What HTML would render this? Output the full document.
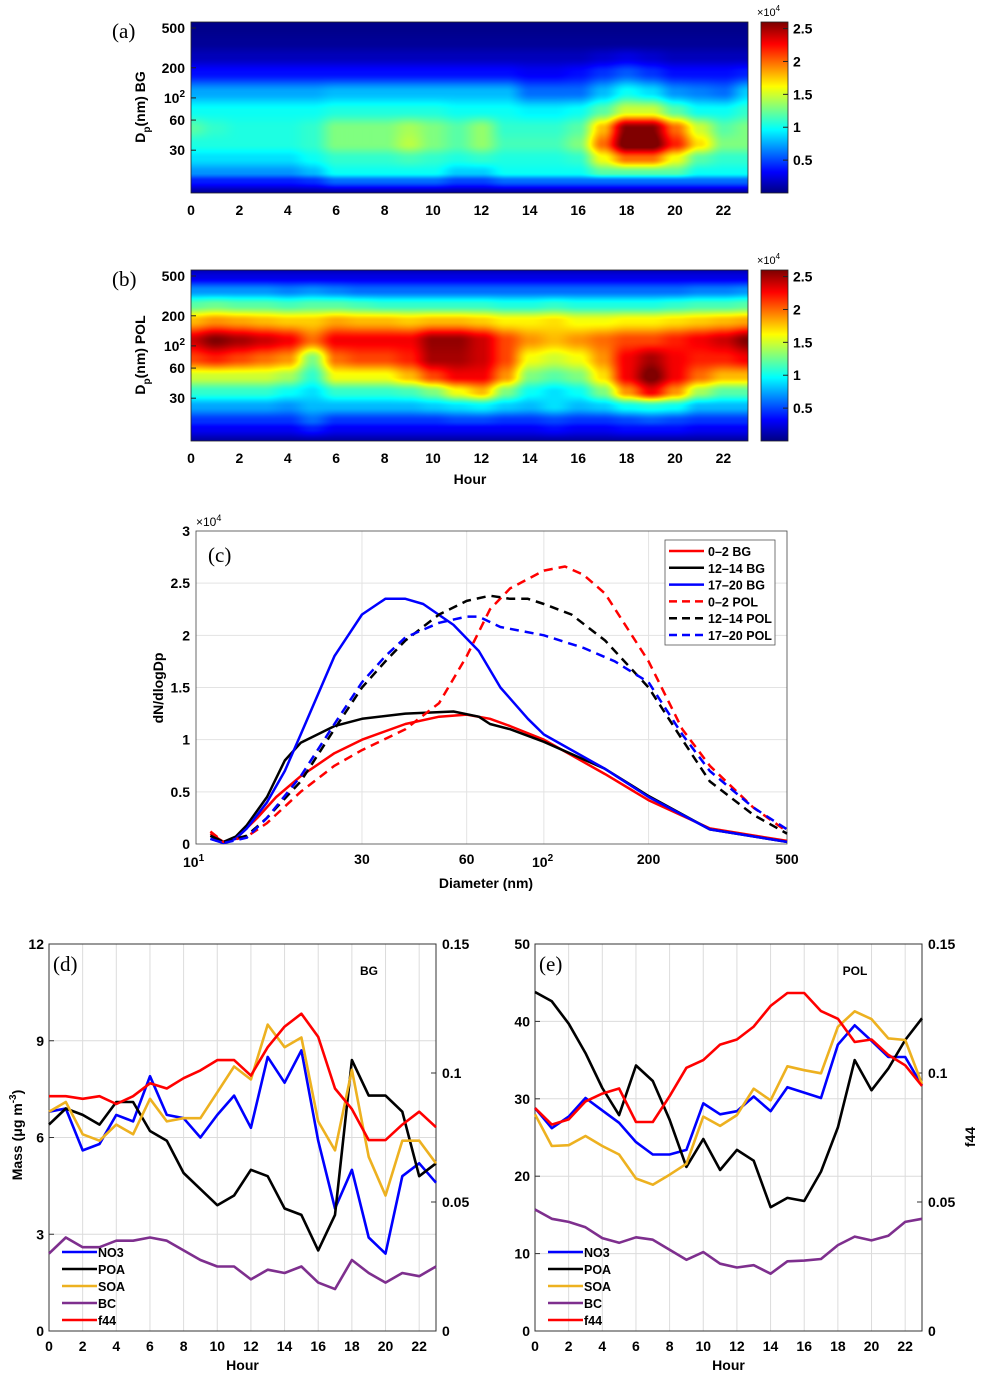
<!DOCTYPE html>
<html><head><meta charset="utf-8">
<style>
body{margin:0;background:#fff;width:981px;height:1376px;position:relative;overflow:hidden;font-family:"Liberation Sans",sans-serif}
svg{position:absolute;left:0;top:0}
canvas{position:absolute}
</style></head>
<body>
<canvas id="hmA" style="left:191px;top:22px" width="557" height="171"></canvas>
<canvas id="hmB" style="left:191px;top:270px" width="557" height="171"></canvas>
<canvas id="cbA" style="left:761px;top:22px" width="27" height="171"></canvas>
<canvas id="cbB" style="left:761px;top:270px" width="27" height="171"></canvas>
<svg id="main" width="981" height="1376"></svg>
<script>
// ---------- heatmap data (x10^4) ----------
const hmDiam = [11,15,18,25,35,50,75,115,180,260,360,500,600];
const hmBG = [
[0.05,0.05,0.05,0.05,0.05,0.05,0.05,0.05,0.05,0.05,0.05,0.05,0.05,0.05,0.05,0.05,0.05,0.05,0.05,0.05,0.05,0.05,0.05,0.05],
[0.4,0.4,0.4,0.4,0.4,0.45,0.6,0.6,0.6,0.6,0.6,0.5,0.5,0.6,0.6,0.6,0.6,0.6,0.6,0.6,0.6,0.6,0.6,0.6],
[0.7,0.7,0.7,0.7,0.7,0.8,1.0,1.0,1.0,1.0,1.0,0.85,0.85,1.0,1.0,1.0,1.0,1.2,1.2,1.2,1.2,1.0,1.0,1.0],
[0.9,0.9,0.9,0.9,0.9,1.0,1.1,1.1,1.1,1.15,1.1,1.05,1.1,1.05,1.05,1.05,1.1,1.6,2.0,2.0,1.6,1.2,1.1,1.1],
[1.05,1.05,1.05,1.05,1.05,1.1,1.3,1.3,1.3,1.45,1.3,1.2,1.35,1.15,1.15,1.15,1.3,2.0,2.7,2.7,2.2,1.7,1.3,1.3],
[1.2,1.1,1.05,1.05,1.05,1.1,1.3,1.3,1.3,1.4,1.3,1.2,1.35,1.1,1.1,1.1,1.2,1.8,2.6,2.6,2.0,1.5,1.2,1.3],
[1.0,1.0,1.0,1.0,1.0,1.0,1.05,1.05,1.05,1.05,1.05,1.0,1.0,1.0,0.95,0.95,1.0,1.2,1.5,1.5,1.2,1.0,1.0,1.1],
[0.75,0.75,0.75,0.75,0.75,0.75,0.8,0.8,0.8,0.8,0.8,0.8,0.8,0.8,0.6,0.6,0.6,0.8,1.0,0.9,0.7,0.65,0.6,0.85],
[0.35,0.35,0.35,0.35,0.35,0.35,0.35,0.35,0.35,0.35,0.35,0.35,0.35,0.35,0.3,0.3,0.35,0.45,0.55,0.45,0.35,0.35,0.35,0.4],
[0.15,0.15,0.15,0.15,0.15,0.15,0.15,0.15,0.15,0.15,0.15,0.15,0.15,0.15,0.15,0.15,0.15,0.2,0.25,0.2,0.15,0.15,0.15,0.15],
[0.06,0.06,0.06,0.06,0.06,0.06,0.06,0.06,0.06,0.06,0.06,0.06,0.06,0.06,0.06,0.06,0.06,0.06,0.06,0.06,0.06,0.06,0.06,0.06],
[0.03,0.03,0.03,0.03,0.03,0.03,0.03,0.03,0.03,0.03,0.03,0.03,0.03,0.03,0.03,0.03,0.03,0.03,0.03,0.03,0.03,0.03,0.03,0.03],
[0.02,0.02,0.02,0.02,0.02,0.02,0.02,0.02,0.02,0.02,0.02,0.02,0.02,0.02,0.02,0.02,0.02,0.02,0.02,0.02,0.02,0.02,0.02,0.02]];
const hmPOL = [
[0.08,0.08,0.08,0.08,0.08,0.08,0.08,0.08,0.08,0.08,0.08,0.08,0.08,0.08,0.08,0.08,0.08,0.08,0.08,0.08,0.08,0.08,0.08,0.08],
[0.3,0.3,0.3,0.3,0.3,0.4,0.3,0.3,0.3,0.3,0.3,0.3,0.3,0.3,0.3,0.35,0.3,0.3,0.35,0.35,0.35,0.3,0.3,0.3],
[0.45,0.45,0.45,0.45,0.45,0.6,0.45,0.45,0.45,0.45,0.45,0.5,0.5,0.45,0.45,0.5,0.45,0.45,0.5,0.55,0.5,0.45,0.45,0.45],
[0.75,0.75,0.75,0.75,0.7,0.8,0.8,0.8,0.8,0.8,0.85,0.9,0.95,0.85,0.8,0.9,0.8,0.85,1.0,1.05,1.0,0.8,0.8,0.8],
[1.1,1.1,1.1,1.1,1.0,0.9,1.1,1.1,1.1,1.15,1.3,1.6,1.8,1.3,1.0,0.9,1.0,1.3,1.9,2.3,1.9,1.4,1.2,1.2],
[1.5,1.5,1.5,1.5,1.4,1.1,1.6,1.6,1.6,1.8,2.1,2.3,2.3,1.9,1.3,1.2,1.3,1.7,2.3,2.65,2.3,2.0,1.8,1.8],
[2.1,2.2,2.1,2.0,1.9,1.3,2.0,2.1,2.1,2.2,2.5,2.5,2.4,2.1,1.6,1.5,1.6,1.9,2.3,2.5,2.3,2.2,2.2,2.3],
[2.4,2.6,2.5,2.4,2.3,2.0,2.3,2.3,2.3,2.3,2.55,2.55,2.4,2.1,1.9,1.8,1.9,2.0,2.1,2.1,2.2,2.3,2.4,2.6],
[1.8,1.9,1.85,1.8,1.75,1.75,1.85,1.8,1.8,1.75,1.8,1.8,1.75,1.65,1.65,1.7,1.6,1.6,1.65,1.65,1.7,1.75,1.8,1.85],
[1.2,1.25,1.2,1.2,1.15,1.2,1.2,1.15,1.1,1.1,1.1,1.1,1.1,1.05,1.05,1.1,1.05,1.05,1.05,1.05,1.1,1.15,1.15,1.2],
[0.7,0.7,0.7,0.7,0.65,0.7,0.65,0.6,0.6,0.6,0.6,0.6,0.6,0.6,0.6,0.6,0.6,0.6,0.6,0.6,0.6,0.65,0.65,0.7],
[0.25,0.25,0.25,0.25,0.25,0.25,0.25,0.25,0.25,0.25,0.25,0.25,0.25,0.25,0.25,0.25,0.25,0.25,0.25,0.25,0.25,0.25,0.25,0.25],
[0.12,0.12,0.12,0.12,0.12,0.12,0.12,0.12,0.12,0.12,0.12,0.12,0.12,0.12,0.12,0.12,0.12,0.12,0.12,0.12,0.12,0.12,0.12,0.12]];

// ---------- size distribution (panel c) ----------
const cLabels = ["0\u20132 BG","12\u201314 BG","17\u201320 BG","0\u20132 POL","12\u201314 POL","17\u201320 POL"];
const cColors = ["#ff0000","#000000","#0000ff","#ff0000","#000000","#0000ff"];
const cDash = [false,false,false,true,true,true];
const dRedBG = [11,12,13,15,17,20,25,30,40,50,60,70,80,100,150,200,300,500];
const vRedBG = [0.1,0.02,0.05,0.25,0.45,0.65,0.87,1.0,1.15,1.22,1.24,1.2,1.13,1.0,0.67,0.42,0.15,0.03];
const dBlkBG = [11,12,13,14,16,18,20,25,30,40,55,65,70,80,100,150,200,300,500];
const vBlkBG = [0.08,0.02,0.07,0.18,0.45,0.8,0.97,1.13,1.2,1.25,1.27,1.22,1.15,1.1,0.98,0.72,0.46,0.14,0.02];
const dBluBG = [11,12,13,14,16,18,20,25,30,35,40,45,55,65,75,90,100,150,200,300,500];
const vBluBG = [0.05,0.01,0.05,0.15,0.4,0.7,1.05,1.8,2.2,2.35,2.35,2.3,2.1,1.85,1.5,1.2,1.05,0.72,0.45,0.14,0.02];
const dRedPOL = [11,12,14,16,20,25,30,40,50,60,70,80,100,115,130,150,200,250,300,400,500];
const vRedPOL = [0.12,0.02,0.07,0.2,0.5,0.75,0.9,1.1,1.35,1.8,2.25,2.45,2.62,2.66,2.58,2.4,1.75,1.1,0.75,0.35,0.12];
const dBlkPOL = [11,12,14,16,20,25,30,35,40,50,60,70,80,90,100,120,150,200,250,300,400,500];
const vBlkPOL = [0.08,0.02,0.08,0.25,0.6,1.1,1.5,1.75,1.95,2.2,2.33,2.38,2.35,2.35,2.3,2.2,1.95,1.5,1.0,0.6,0.28,0.1];
const dBluPOL = [11,12,14,16,20,25,30,35,40,50,60,65,75,100,130,160,200,250,300,400,500];
const vBluPOL = [0.05,0.01,0.06,0.25,0.65,1.15,1.55,1.8,1.98,2.12,2.18,2.18,2.08,2.0,1.88,1.75,1.55,1.05,0.7,0.35,0.14];

// ---------- diurnal mass (panels d, e) ----------
const hours = [0,1,2,3,4,5,6,7,8,9,10,11,12,13,14,15,16,17,18,19,20,21,22,23];
const bgNO3 = [6.8,6.9,5.6,5.8,6.7,6.5,7.9,6.7,6.6,6.0,6.7,7.3,6.3,8.5,7.7,8.7,5.9,3.8,5.0,2.9,2.4,4.8,5.2,4.6];
const bgPOA = [6.4,6.9,6.7,6.4,7.1,7.1,6.2,5.9,4.9,4.4,3.9,4.2,5.0,4.8,3.8,3.6,2.5,3.6,8.4,7.3,7.3,6.8,4.8,5.2];
const bgSOA = [6.8,7.1,6.1,5.9,6.4,6.1,7.2,6.5,6.6,6.6,7.4,8.2,7.8,9.5,8.8,9.1,6.5,5.6,8.1,5.4,4.2,5.9,5.9,5.2];
const bgBC  = [2.4,2.9,2.6,2.6,2.8,2.8,2.9,2.8,2.5,2.2,2.0,2.0,1.6,1.9,1.8,2.0,1.5,1.3,2.2,1.8,1.5,1.8,1.7,2.0];
const bgF44 = [0.091,0.091,0.090,0.091,0.088,0.091,0.096,0.094,0.098,0.101,0.105,0.105,0.099,0.110,0.118,0.123,0.114,0.094,0.086,0.074,0.074,0.080,0.085,0.079];
const polNO3 = [28.8,26.2,27.7,30.1,28.5,26.9,24.4,22.8,22.8,23.4,29.4,28.0,28.4,30.3,28.4,31.5,30.8,30.1,37.0,39.5,37.5,35.4,35.4,31.7];
const polPOA = [43.8,42.6,39.7,35.9,31.4,27.9,34.3,32.3,27.3,21.2,24.8,20.8,23.4,22.0,16.0,17.2,16.8,20.6,26.3,35.0,31.1,33.9,37.6,40.4];
const polSOA = [28.0,23.9,24.0,25.2,23.9,22.8,19.7,18.9,20.2,21.6,27.7,26.5,27.9,31.3,29.8,34.2,33.7,33.3,39.3,41.3,40.3,37.8,37.6,31.9];
const polBC  = [15.7,14.5,14.1,13.4,12.0,11.4,12.1,11.8,10.5,9.2,10.2,8.7,8.2,8.5,7.4,9.0,9.1,9.3,11.1,12.2,11.7,12.3,14.1,14.5];
const polF44 = [0.0864,0.080,0.082,0.089,0.092,0.094,0.081,0.081,0.091,0.102,0.105,0.111,0.113,0.118,0.126,0.131,0.131,0.124,0.121,0.112,0.113,0.107,0.103,0.095];
const seriesNames = ["NO3","POA","SOA","BC","f44"];
const seriesColors = ["#0000ff","#000000","#edb120","#7e2f8e","#ff0000"];

// ---------- helpers ----------
const NS="http://www.w3.org/2000/svg";
const svg=document.getElementById('main');
function el(tag,attrs,parent,text){const e=document.createElementNS(NS,tag);for(const k in attrs)e.setAttribute(k,attrs[k]);if(text!==undefined)e.textContent=text;(parent||svg).appendChild(e);return e;}
function jet(v){v=Math.max(0,Math.min(1,v));const r=Math.max(0,Math.min(1,1.5-Math.abs(4*v-3))),g=Math.max(0,Math.min(1,1.5-Math.abs(4*v-2))),b=Math.max(0,Math.min(1,1.5-Math.abs(4*v-1)));return [r*255,g*255,b*255];}
const CMAX=2.6;

function drawHeat(id,mat){
  const c=document.getElementById(id),ctx=c.getContext('2d'),W=c.width,H=c.height;
  const img=ctx.createImageData(W,H);
  const ld=hmDiam.map(Math.log10);
  for(let py=0;py<H;py++){
    const l=2.759-py/100; // log10 diameter at row
    let j=0;while(j<ld.length-2&&ld[j+1]<l)j++;
    let ty=(l-ld[j])/(ld[j+1]-ld[j]);ty=Math.max(0,Math.min(1,ty));ty=ty*ty*(3-2*ty);
    for(let px=0;px<W;px++){
      let h=px/24.2;if(h>23)h=23;
      const i=Math.min(22,Math.floor(h));let tx=h-i;tx=tx*tx*(3-2*tx);
      const a=mat[j][i]*(1-tx)+mat[j][i+1]*tx,b=mat[j+1][i]*(1-tx)+mat[j+1][i+1]*tx;
      const v=a*(1-ty)+b*ty;const col=jet(v/CMAX);const o=(py*W+px)*4;
      img.data[o]=col[0];img.data[o+1]=col[1];img.data[o+2]=col[2];img.data[o+3]=255;}
  }
  ctx.putImageData(img,0,0);
}
function drawCb(id){const c=document.getElementById(id),ctx=c.getContext('2d');for(let py=0;py<c.height;py++){const col=jet((c.height-py)/c.height);ctx.fillStyle=`rgb(${col[0]|0},${col[1]|0},${col[2]|0})`;ctx.fillRect(0,py,c.width,1);}}
drawHeat('hmA',hmBG);drawHeat('hmB',hmPOL);drawCb('cbA');drawCb('cbB');

const TF={'font-family':'Liberation Sans, sans-serif','font-weight':'bold','font-size':'14'};
function txt(x,y,s,extra,name){const a=Object.assign({x:x,y:y},TF,extra||{});const t=el('text',a,null,s);return t;}

// heatmap axes
function heatAxes(top,label,ylab){
  const g=el('g',{});
  el('rect',{x:191,y:top,width:557,height:171,fill:'none',stroke:'#222','stroke-width':0.8},g);
  [[500,'500'],[200,'200'],[100,'10'],[60,'60'],[30,'30']].forEach(([d,s])=>{
    const y=top+(2.759-Math.log10(d))*100;
    const t=txt(185,y+5,s,{'text-anchor':'end'},'y-tick-label');
    if(d===100){el('tspan',{dy:-6,'font-size':10},t,'2');}
    el('line',{x1:191,x2:196,y1:y,y2:y,stroke:'#222'},g);
  });
  for(let h=0;h<=22;h+=2){const x=191+h*24.2;txt(x,top+193,String(h),{'text-anchor':'middle'},'x-tick-label');}
  const t=el('text',Object.assign({transform:`translate(145,${top+85}) rotate(-90)`,'text-anchor':'middle'},TF),g);
  
  el('tspan',{},t,'D');el('tspan',{dy:5,'font-size':10},t,'p');el('tspan',{dy:-5},t,'(nm) '+ylab);
  const p=txt(112,top+16,'('+label+')',{'font-family':'Liberation Serif, serif','font-weight':'normal','font-size':'21'},'panel-label');
  el('rect',{x:761,y:top,width:27,height:171,fill:'none',stroke:'#222','stroke-width':0.8},g);
  [0.5,1,1.5,2,2.5].forEach(v=>{const y=top+171-v/CMAX*171;txt(793,y+5,String(v),{},'colorbar-tick');el('line',{x1:783,x2:788,y1:y,y2:y,stroke:'#222'},g);});
  const m=txt(757,top-6,'\u00d710',{'font-weight':'normal','font-size':'11'},'colorbar-multiplier');el('tspan',{dy:-5,'font-size':8},m,'4');
}
heatAxes(22,'a','BG');heatAxes(270,'b','POL');
txt(470,484,'Hour',{'text-anchor':'middle'},'x-axis-title');

// ---------- panel c ----------
const cx0=196,cx1=787,cy0=844,cy1=531;
const xc=d=>cx0+(Math.log10(d)-1)/Math.log10(50)*(cx1-cx0);
const yc=v=>cy0-v/3*(cy0-cy1);
const gc=el('g',{});
[0.5,1,1.5,2,2.5].forEach(v=>el('line',{x1:cx0,x2:cx1,y1:yc(v),y2:yc(v),stroke:'#e3e3e3'},gc));
[30,60,100,200].forEach(d=>el('line',{x1:xc(d),x2:xc(d),y1:cy1,y2:cy0,stroke:'#e3e3e3'},gc));
el('rect',{x:cx0,y:cy1,width:cx1-cx0,height:cy0-cy1,fill:'none',stroke:'#444','stroke-width':0.8},gc);
[0,0.5,1,1.5,2,2.5,3].forEach(v=>txt(190,yc(v)+5,String(v),{'text-anchor':'end'},'y-tick-label'));
[[30,'30'],[60,'60'],[200,'200'],[500,'500']].forEach(([d,s])=>txt(xc(d),864,s,{'text-anchor':'middle'},'x-tick-label'));
{let t=txt(183,867,'10',{},'x-tick-label');el('tspan',{dy:-6,'font-size':10},t,'1');t=txt(532,867,'10',{},'x-tick-label');el('tspan',{dy:-6,'font-size':10},t,'2');}
{const m=txt(196,526,'\u00d710',{'font-weight':'normal','font-size':'12'},'y-multiplier');el('tspan',{dy:-5,'font-size':9},m,'4');}
txt(486,888,'Diameter (nm)',{'text-anchor':'middle'},'x-axis-title');
txt(0,0,'dN/dlogDp',{'text-anchor':'middle',transform:'translate(163,688) rotate(-90)'},'y-axis-title');
txt(208,562,'(c)',{'font-family':'Liberation Serif, serif','font-weight':'normal','font-size':'21'},'panel-label');
const cD=[dRedBG,dBlkBG,dBluBG,dRedPOL,dBlkPOL,dBluPOL],cV=[vRedBG,vBlkBG,vBluBG,vRedPOL,vBlkPOL,vBluPOL];
const cNames=['line-0-2-bg','line-12-14-bg','line-17-20-bg','line-0-2-pol','line-12-14-pol','line-17-20-pol'];
cD.forEach((ds,k)=>{
  const pts=ds.map((d,i)=>xc(d).toFixed(1)+','+yc(cV[k][i]).toFixed(1)).join(' ');
  const p=el('polyline',{points:pts,fill:'none',stroke:cColors[k],'stroke-width':2.5,'stroke-linejoin':'round','stroke-dasharray':cDash[k]?'9,6':'none'},gc);
  
});
el('rect',{x:665,y:540,width:110,height:105,fill:'#fff',stroke:'#555','stroke-width':0.8},gc);
cLabels.forEach((s,k)=>{const y=551+k*16.8;
  const l=el('line',{x1:669,x2:704,y1:y,y2:y,stroke:cColors[k],'stroke-width':2.5,'stroke-dasharray':cDash[k]?'8,5':'none'},gc);
  
  txt(708,y+5,s,{'font-size':'12.5'},'legend-entry');});

// ---------- panels d, e ----------
function diurnal(x0,x1,ymax,yticks,data,f44,label,tag,showF44Title){
  const y0=1331,y1=944;
  const xs=h=>x0+h/23*(x1-x0),ys=v=>y0-v/ymax*(y0-y1),yf=v=>y0-v/0.15*(y0-y1);
  const g=el('g',{});
  yticks.forEach(v=>{if(v>0&&v<ymax)el('line',{x1:x0,x2:x1,y1:ys(v),y2:ys(v),stroke:'#dcdcdc'},g);});
  for(let h=2;h<=22;h+=2)el('line',{x1:xs(h),x2:xs(h),y1:y1,y2:y0,stroke:'#dcdcdc'},g);
  el('rect',{x:x0,y:y1,width:x1-x0,height:y0-y1,fill:'none',stroke:'#333','stroke-width':1},g);
  yticks.forEach(v=>{txt(x0-5,ys(v)+5,String(v),{'text-anchor':'end'},'y-tick-label');el('line',{x1:x0,x2:x0+5,y1:ys(v),y2:ys(v),stroke:'#333'},g);});
  [0,0.05,0.1,0.15].forEach(v=>{txt(x1+6,yf(v)+5,String(v),{},'y2-tick-label');el('line',{x1:x1-5,x2:x1,y1:yf(v),y2:yf(v),stroke:'#333'},g);});
  for(let h=0;h<=22;h+=2)txt(xs(h),1351,String(h),{'text-anchor':'middle'},'x-tick-label');
  txt((x0+x1)/2,1370,'Hour',{'text-anchor':'middle'},'x-axis-title');
  data.forEach((arr,k)=>{
    const pts=hours.map((h,i)=>xs(h).toFixed(1)+','+ys(arr[i]).toFixed(1)).join(' ');
    const p=el('polyline',{points:pts,fill:'none',stroke:seriesColors[k],'stroke-width':2.6,'stroke-linejoin':'round'},g);
    
  });
  const pf=el('polyline',{points:hours.map((h,i)=>xs(h).toFixed(1)+','+yf(f44[i]).toFixed(1)).join(' '),fill:'none',stroke:seriesColors[4],'stroke-width':2.6,'stroke-linejoin':'round'},g);
  
  seriesNames.forEach((s,k)=>{const y=1252+k*17;
    const l=el('line',{x1:x0+13,x2:x0+48,y1:y,y2:y,stroke:seriesColors[k],'stroke-width':2.6},g);
    
    txt(x0+49,y+5,s,{'font-size':'12.5'},'legend-entry');});
  txt(x0+4,971,'('+tag+')',{'font-family':'Liberation Serif, serif','font-weight':'normal','font-size':'21'},'panel-label');
  txt(x1-67,975,label,{'font-size':'12','text-anchor':'middle'},'site-label');
}
diurnal(49,436,12,[0,3,6,9,12],[bgNO3,bgPOA,bgSOA,bgBC],bgF44,'BG','d');
diurnal(535,922,50,[0,10,20,30,40,50],[polNO3,polPOA,polSOA,polBC],polF44,'POL','e');
{const t=el('text',Object.assign({transform:'translate(22,1135) rotate(-90)','text-anchor':'middle'},TF));
 
 el('tspan',{},t,'Mass (\u03bcg m');el('tspan',{dy:-6,'font-size':10},t,'-3');el('tspan',{dy:6},t,')');}
txt(0,0,'f44',{'text-anchor':'middle',transform:'translate(975,1137) rotate(-90)'},'y2-axis-title');
</script>
</body></html>
